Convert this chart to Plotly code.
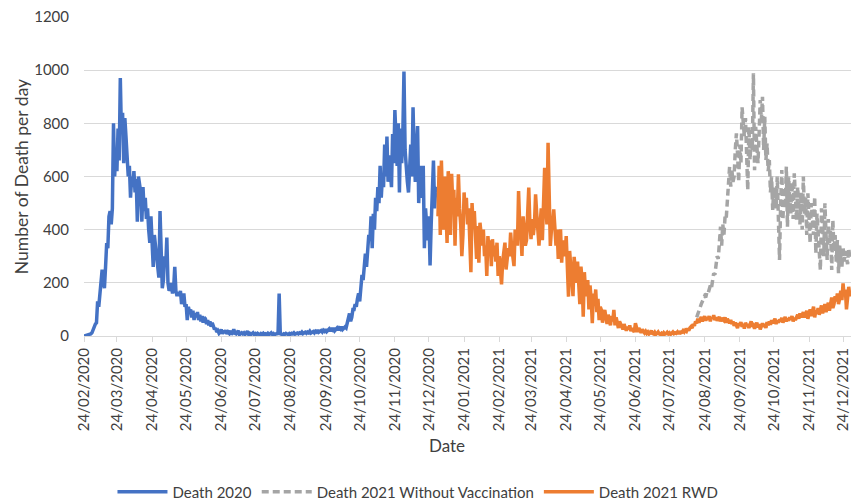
import pandas as pd
import plotly.graph_objects as go

# ---------------- data ----------------
start_2020 = "2020-02-24"
death_2020 = [
    0, 1, 2, 3, 4, 6, 8,
    12, 25, 30, 45, 50, 130, 110,
    170, 190, 250, 210, 180, 260, 350,
    330, 450, 470, 420, 480, 800, 600,
    700, 620, 780, 660, 970, 760, 840,
    650, 820, 750, 680, 600, 640, 520,
    600, 560, 620, 540, 590, 430, 600,
    570, 540, 430, 560, 470, 520, 440,
    480, 400, 350, 450, 330, 260, 380,
    340, 300, 260, 220, 470, 280, 180,
    210, 300, 260, 370, 200, 170, 180,
    200, 160, 180, 260, 170, 150, 165,
    150, 170, 120, 140, 160, 110, 120,
    60, 110, 90, 100, 70, 95, 60,
    85, 70, 90, 60, 80, 55, 75,
    50, 70, 65, 45, 60, 40, 55,
    35, 50, 40, 25, 30, 15, 20,
    10, 15, 25, 8, 20, 12, 22,
    8, 15, 10, 20, 6, 12, 25,
    10, 8, 15, 20, 5, 10, 12,
    8, 12, 6, 10, 18, 7, 10,
    5, 8, 12, 6, 9, 5, 10,
    7, 4, 9, 6, 10, 5, 8,
    6, 10, 5, 8, 12, 6, 9,
    5, 7, 10, 6, 160, 8, 6,
    5, 8, 6, 10, 7, 5, 9,
    6, 10, 8, 12, 7, 9, 11,
    8, 12, 10, 15, 9, 11, 14,
    10, 15, 12, 18, 11, 14, 17,
    12, 18, 15, 22, 14, 16, 20,
    15, 22, 18, 25, 17, 20, 26,
    18, 25, 22, 30, 20, 24, 30,
    22, 30, 26, 35, 25, 28, 34,
    30, 45, 60, 85, 55, 70, 100,
    100, 120, 110, 140, 160, 130, 180,
    230, 210, 270, 310, 260, 340, 380,
    360, 450, 330, 460, 400, 520, 470,
    560, 500, 640, 520, 600, 560, 720,
    600, 750, 580, 680, 620, 560, 760,
    650, 850, 720, 640, 800, 540, 780,
    650, 760, 995, 700, 620, 580, 540,
    640, 720, 600, 860, 680, 580, 700,
    790, 500, 640, 520, 600, 640, 330,
    480, 420, 360, 450, 265, 420, 580,
    660, 480, 560, 540,
]

start_2021_rwd = "2021-01-01"
death_2021_rwd = [
    450, 640, 380, 660, 500, 400, 600,
    430, 350, 620, 560, 380, 610, 500,
    550, 340, 520, 450, 608, 480, 420,
    300, 380, 540, 460, 520, 420, 480,
    330, 240, 500, 420, 470, 380, 290,
    414, 276, 426, 380, 340, 400, 300,
    340, 226, 376, 320, 360, 263, 364,
    300, 340, 280, 351, 226, 300, 250,
    194, 280, 320, 351, 250, 300, 330,
    300, 389, 330, 290, 263, 400, 380,
    340, 545, 420, 380, 301, 450, 400,
    340, 360, 450, 558, 420, 364, 440,
    380, 420, 533, 460, 380, 340, 420,
    480, 360, 520, 633, 500, 420, 727,
    500, 339, 400, 420, 476, 380, 340,
    400, 290, 350, 401, 276, 360, 330,
    300, 376, 250, 148, 320, 260, 230,
    150, 298, 240, 200, 280, 180, 120,
    261, 210, 73, 240, 170, 150, 210,
    100, 190, 140, 48, 160, 120, 175,
    90, 140, 60, 110, 98, 50, 85,
    98, 70, 45, 80, 60, 40, 75,
    55, 98, 40, 70, 50, 30, 55,
    40, 35, 25, 45, 30, 20, 35,
    25, 40, 18, 30, 20, 15, 48,
    25, 15, 30, 20, 12, 25, 15,
    12, 18, 10, 15, 8, 12, 20,
    10, 8, 14, 6, 10, 15, 8,
    6, 10, 5, 12, 7, 9, 14,
    8, 12, 6, 10, 15, 9, 12,
    10, 15, 8, 18, 12, 14, 20,
    15, 22, 18, 28, 20, 30, 35,
    30, 45, 38, 55, 48, 65, 50,
    60, 72, 55, 68, 75, 58, 70,
    62, 75, 55, 70, 65, 78, 60,
    70, 58, 66, 72, 55, 68, 62,
    58, 70, 50, 65, 55, 48, 60,
    45, 55, 38, 50, 42, 30, 48,
    40, 52, 35, 45, 28, 50, 38,
    45, 30, 42, 55, 35, 40, 28,
    38, 50, 32, 45, 25, 40, 48,
    35, 45, 30, 52, 40, 55, 42,
    60, 48, 55, 65, 45, 58, 50,
    62, 55, 68, 50, 60, 72, 55,
    65, 58, 70, 62, 75, 55, 68,
    60, 72, 80, 65, 85, 70, 78,
    90, 70, 85, 95, 65, 80, 100,
    75, 90, 110, 70, 95, 85, 105,
    80, 100, 115, 85, 105, 120, 90,
    110, 125, 95, 130, 145, 105, 120,
    150, 130, 160, 120, 140, 170, 135,
    198, 150, 175, 100, 160, 185, 150,
    165,
]

start_2021_novax = "2021-08-17"
death_2021_novax = [
    70, 85, 95, 110, 120, 130, 140,
    150, 145, 165, 160, 175, 190, 180,
    210, 236, 230, 260, 300, 290, 350,
    411, 340, 420, 380, 449, 440, 520,
    600, 637, 562, 624, 580, 600, 700,
    762, 687, 580, 720, 650, 860, 780,
    750, 820, 700, 549, 787, 662, 740,
    700, 988, 624, 787, 700, 650, 760,
    888, 813, 900, 700, 825, 662, 725,
    620, 662, 540, 600, 474, 560, 520,
    480, 600, 420, 286, 500, 624, 436,
    560, 480, 637, 411, 600, 520, 460,
    580, 440, 612, 500, 436, 560, 480,
    420, 540, 400, 600, 460, 520, 380,
    537, 440, 349, 500, 420, 380, 524,
    311, 460, 400, 350, 248, 480, 420,
    300, 499, 380, 286, 440, 350, 400,
    248, 436, 320, 380, 280, 361, 236,
    340, 300, 261, 336, 280, 320, 300,
    270, 330, 290, 286,
]

x_start = "2020-02-24"
x_end = "2021-12-31"
tick_first = "2020-02-24"
y_ticks = [0, 200, 400, 600, 800, 1000, 1200]

# ---------------- figure ----------------
x2020 = pd.date_range(start_2020, periods=len(death_2020), freq="D")
x_rwd = pd.date_range(start_2021_rwd, periods=len(death_2021_rwd), freq="D")
x_novax = pd.date_range(start_2021_novax, periods=len(death_2021_novax), freq="D")

BLUE = "#4472C4"
GREY = "#A5A5A5"
ORANGE = "#ED7D31"
TXT = "#404040"
FONT = "Lato"

fig = go.Figure()
fig.add_trace(go.Scatter(x=x2020, y=death_2020, mode="lines", name="Death 2020",
                         line=dict(color=BLUE, width=3.5)))
fig.add_trace(go.Scatter(x=x_novax, y=death_2021_novax, mode="lines",
                         name="Death 2021 Without Vaccination",
                         line=dict(color=GREY, width=3.5, dash="7px,4px")))
fig.add_trace(go.Scatter(x=x_rwd, y=death_2021_rwd, mode="lines", name="Death 2021 RWD",
                         line=dict(color=ORANGE, width=3.5)))

tickvals = pd.date_range(tick_first, x_end, freq=pd.DateOffset(months=1))
ticktext = [t.strftime("%d/%m/%Y") for t in tickvals]

fig.update_layout(
    width=853, height=501,
    margin=dict(l=84, r=2, t=17, b=165),
    paper_bgcolor="white", plot_bgcolor="white",
    font=dict(family=FONT, size=15, color=TXT),
    showlegend=True,
    legend=dict(orientation="h", xref="container", yref="container",
                x=0.49, xanchor="center", y=0.018, yanchor="middle",
                font=dict(size=15, color=TXT), itemwidth=50, tracegroupgap=0),
    xaxis=dict(
        type="date", range=[x_start, x_end], automargin=False,
        tickvals=tickvals, ticktext=ticktext, tickangle=-90,
        showgrid=False, showline=True, linecolor="#D9D9D9", linewidth=1,
        ticks="outside", ticklen=5, tickcolor="#D9D9D9",
        tickfont=dict(size=15, color=TXT),
        zeroline=False,
    ),
    yaxis=dict(
        range=[0, 1200], tickvals=y_ticks, automargin=False,
        showgrid=True, gridcolor="#D9D9D9", gridwidth=1,
        showline=False, zeroline=False, ticks="",
        ticklabelstandoff=14,
        tickfont=dict(size=15, color=TXT),
        title=dict(text="Number of Death per day", font=dict(size=17.5, color=TXT), standoff=1),
    ),
    annotations=[dict(text="Date", xref="paper", yref="paper", x=0.473, y=-0.342,
                      xanchor="center", yanchor="middle", showarrow=False,
                      font=dict(size=17, color=TXT))],
)

fig.write_html("out.html")
